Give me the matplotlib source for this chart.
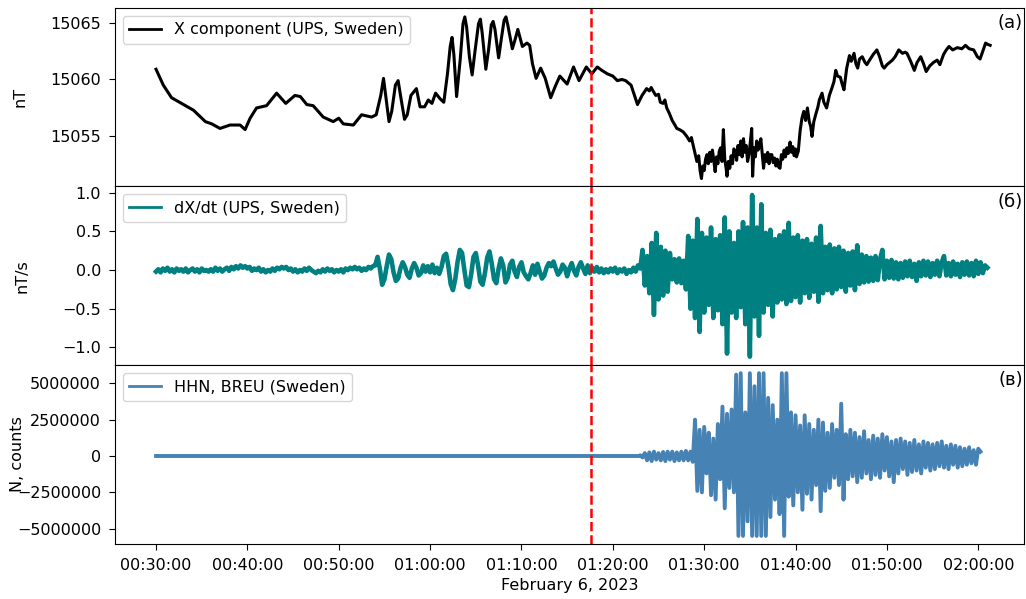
import numpy as np
import pandas as pd
import matplotlib
matplotlib.use('Agg')
import matplotlib.pyplot as plt
import matplotlib.dates as mdates

plt.rcParams['font.size'] = 11.5
plt.rcParams['xtick.major.pad'] = 5.5
plt.rcParams['ytick.major.pad'] = 5.5
plt.rcParams['xtick.major.size'] = 4.5
plt.rcParams['ytick.major.size'] = 4.5

# --- данные ---
t0 = pd.Timestamp('2023-02-06 00:30:00')
quake_time = pd.Timestamp('2023-02-06 01:17:35')

# X компонента (UPS): время в минутах от 00:30, значения в нТл
x_t_min = [
    0, 0.8, 1.7, 2.8, 4.1, 5.4, 6.1, 7.0, 8.1, 9.2, 9.75, 10.3, 11.0, 12.1, 13.2,
    14.2, 15.2, 15.8, 16.5, 17.2, 18.3, 19.4, 20.0, 20.5, 21.6, 22.5, 23.6, 24.1,
    24.6, 24.9, 25.2, 25.5, 25.8, 26.2, 26.5, 26.8, 27.2, 27.5, 27.9, 28.5, 28.9,
    29.4, 29.8, 30.2, 30.6, 31.1, 31.5, 31.9, 32.2, 32.4, 32.6, 32.9, 33.3, 33.6,
    33.8, 34.0, 34.3, 34.6, 34.9, 35.3, 35.5, 35.7, 36.1, 36.4, 36.7, 36.9, 37.1,
    37.5, 37.8, 38.1, 38.3, 38.5, 39.0, 39.3, 39.6, 39.8, 40.1, 40.6, 40.9, 41.2,
    41.6, 42.1, 42.6, 43.2, 43.7, 44.2, 45.0, 45.7, 46.3, 47.1, 47.7, 48.3, 48.8,
    49.4, 50.0, 50.5, 51.0, 51.4, 52.0, 52.7, 53.2, 53.7, 54.0, 54.2, 54.4, 54.7,
    55.0, 55.2, 55.5, 55.7, 55.9, 56.2, 56.5, 56.8, 57.0, 57.3, 57.7, 58.1, 58.4,
    58.6, 58.8, 59.0, 59.2, 59.4, 59.55, 59.7, 59.85, 60.0, 60.15, 60.3, 60.45,
    60.6, 60.75, 60.9, 61.05, 61.2, 61.35, 61.5, 61.65, 61.8, 61.95, 62.1, 62.25,
    62.4, 62.5, 62.65, 62.8, 62.95, 63.1, 63.25, 63.4, 63.55, 63.7, 63.85, 64.0,
    64.15, 64.3, 64.45, 64.6, 64.75, 64.9, 65.05, 65.2, 65.3, 65.45, 65.6, 65.75,
    65.9, 66.05, 66.2, 66.35, 66.5, 66.65, 66.8, 66.95, 67.1, 67.25, 67.4, 67.55,
    67.7, 67.85, 68.0, 68.15, 68.3, 68.45, 68.6, 68.75, 68.9, 69.05, 69.2, 69.4,
    69.55, 69.7, 69.85, 70.0, 70.1, 70.3, 70.5, 70.7, 70.9, 71.1, 71.3, 71.5,
    71.65, 71.8, 72.0, 72.2, 72.45, 72.6, 72.9, 73.1, 73.4, 73.7, 74.0, 74.2,
    74.4, 74.6, 74.9, 75.1, 75.3, 75.6, 75.9, 76.1, 76.4, 76.6, 76.8, 77.0, 77.3,
    77.6, 77.8, 78.1, 78.5, 78.9, 79.2, 79.5, 79.7, 80.0, 80.3, 80.6, 80.9, 81.3,
    81.7, 82.0, 82.2, 82.6, 83.0, 83.3, 83.7, 84.0, 84.3, 84.7, 85.1, 85.5, 85.8,
    86.2, 86.5, 86.8, 87.2, 87.7, 88.2, 88.6, 89.0, 89.5, 89.9, 90.2, 90.5, 90.8,
    91.0, 91.3,
]
x_nT = [
    15060.9, 15059.5, 15058.4, 15057.9, 15057.3, 15056.3, 15056.1, 15055.7, 15056.0,
    15056.0, 15055.6, 15056.6, 15057.5, 15057.7, 15058.8, 15057.9, 15058.6, 15058.5,
    15057.8, 15057.7, 15056.7, 15056.3, 15056.6, 15056.1, 15056.0, 15056.9, 15056.7,
    15056.9, 15058.6, 15060.1, 15058.2, 15056.3, 15057.2, 15059.5, 15059.9, 15058.4,
    15056.5, 15056.9, 15058.6, 15059.2, 15057.6, 15057.6, 15058.2, 15057.9, 15058.8,
    15058.3, 15058.0, 15060.5, 15062.9, 15063.7, 15062.2, 15058.5, 15061.8, 15064.9,
    15065.5, 15064.6, 15062.0, 15060.4, 15062.4, 15064.9, 15065.3, 15064.1, 15060.9,
    15062.6, 15064.8, 15065.1, 15064.4, 15061.9, 15063.6, 15065.2, 15065.5, 15064.8,
    15062.7, 15063.5, 15064.4, 15063.8, 15062.9, 15063.2, 15063.0, 15061.4, 15060.1,
    15061.0, 15060.1, 15058.4, 15059.4, 15060.3, 15059.6, 15061.1, 15059.9, 15061.1,
    15060.5, 15061.1, 15060.8, 15060.5, 15060.3, 15059.9, 15060.0, 15059.9, 15059.5,
    15057.8, 15058.6, 15059.2, 15059.0, 15059.3, 15059.0, 15058.6, 15058.7, 15058.0,
    15057.9, 15058.2, 15057.5, 15057.0, 15056.4, 15056.0, 15055.7, 15055.6, 15055.4,
    15055.0, 15054.6, 15054.9, 15054.2, 15053.5, 15052.8, 15053.3, 15052.0, 15051.3,
    15052.4, 15052.0, 15053.0, 15053.4, 15052.6, 15053.6, 15052.8, 15053.8, 15052.9,
    15051.9, 15053.2, 15052.6, 15053.7, 15054.0, 15052.8, 15055.6, 15053.0, 15052.2,
    15051.5, 15052.8, 15052.2, 15053.3, 15052.6, 15053.9, 15053.7, 15052.9, 15054.2,
    15053.4, 15054.6, 15053.2, 15054.8, 15053.6, 15054.2, 15052.8, 15053.4, 15054.5,
    15055.7, 15051.5, 15054.0, 15053.2, 15054.6, 15053.8, 15054.2, 15054.8, 15053.5,
    15052.2, 15053.4, 15052.8, 15053.6, 15052.6, 15053.4, 15053.4, 15052.7, 15053.1,
    15052.4, 15053.0, 15052.3, 15052.2, 15053.4, 15053.0, 15053.8, 15053.2, 15054.0,
    15053.5, 15054.5, 15053.6, 15054.1, 15053.3, 15053.9, 15053.2, 15053.7, 15055.5,
    15056.6, 15057.2, 15056.4, 15057.5, 15056.3, 15055.9, 15055.0, 15056.3, 15056.9,
    15057.6, 15058.2, 15058.8, 15058.0, 15057.5, 15058.6, 15059.3, 15059.8, 15060.8,
    15060.3, 15060.2, 15059.6, 15059.1, 15061.0, 15062.1, 15061.6, 15062.3, 15061.4,
    15061.0, 15061.8, 15062.0, 15061.5, 15061.3, 15061.7, 15062.2, 15062.6, 15062.0,
    15061.2, 15061.0, 15061.3, 15061.5, 15061.7, 15062.0, 15062.6, 15062.3, 15062.4,
    15062.3, 15061.6, 15060.8, 15061.5, 15062.0, 15061.4, 15060.7, 15061.2, 15061.5,
    15061.7, 15061.3, 15062.2, 15062.6, 15062.9, 15062.6, 15062.8, 15062.7, 15063.0,
    15062.7, 15062.6, 15062.0, 15061.8, 15062.5, 15063.2, 15063.1, 15063.0,
]

# dX/dt (UPS): шаг 15 с начиная с 00:30, нТл/с
dxdt_step_s = 15
dxdt_nTs = [
    -0.02, 0.01, -0.03, 0.02, -0.01, 0.03, -0.02, 0.01,
    -0.03, 0.02, -0.01, 0.01, -0.02, 0.02, -0.03, 0.00,
    0.02, -0.02, 0.01, -0.03, 0.02, -0.01, 0.00, -0.02,
    0.01, -0.02, 0.03, -0.01, 0.02, -0.02, 0.01, 0.03,
    -0.01, 0.04, 0.01, 0.05, 0.02, 0.06, 0.03, 0.05,
    0.02, 0.04, -0.01, 0.02, 0.00, 0.03, -0.02, 0.01,
    -0.03, 0.00, -0.02, 0.02, -0.01, 0.03, 0.01, 0.04,
    0.02, 0.04, 0.00, 0.02, -0.02, 0.01, -0.03, 0.00,
    -0.02, 0.02, -0.01, 0.03, 0.00, -0.02, -0.04, -0.01,
    -0.03, 0.01, -0.02, 0.02, -0.01, 0.01, -0.03, 0.00,
    -0.02, 0.01, -0.03, 0.02, 0.00, 0.03, 0.01, 0.04,
    0.01, 0.03, -0.01, 0.02, 0.00, 0.04, 0.02, 0.05,
    0.06, 0.17, 0.02, -0.19, -0.12, 0.05, 0.20, 0.14,
    -0.03, -0.14, -0.11, 0.02, 0.10, 0.04, -0.06, -0.10,
    0.02, 0.09, 0.03, -0.07, -0.04, 0.06, -0.02, 0.05,
    -0.03, 0.07, -0.04, 0.03, -0.05, 0.04, 0.18, 0.21,
    0.05, -0.18, -0.26, -0.12, 0.10, 0.26, 0.22, 0.00,
    -0.20, -0.22, -0.05, 0.17, 0.22, 0.06, -0.15, -0.19,
    -0.04, 0.16, 0.24, 0.08, -0.12, -0.17, 0.02, 0.15,
    0.06, -0.16, -0.10, 0.07, 0.12, -0.02, -0.09, 0.04,
    0.10, -0.03, -0.08, -0.12, -0.04, 0.06, -0.06, 0.08,
    -0.02, -0.11, -0.07, 0.03, 0.09, 0.05, 0.11, 0.02,
    -0.06, -0.02, 0.07, 0.03, -0.08, 0.02, 0.09, -0.01,
    -0.07, 0.04, 0.10, 0.02, -0.05, 0.06, -0.04, 0.03,
    -0.02, 0.04, -0.03, 0.02, -0.04, 0.01, -0.03, 0.02,
    -0.02, 0.03, -0.04, 0.01, -0.02, 0.02, -0.05, 0.00,
    -0.03, 0.03, -0.02, 0.06, 0.02, 0.26, -0.20, 0.18,
    -0.30, 0.35, -0.58, 0.48, -0.38, 0.30, -0.33, 0.25,
    -0.28, 0.22, -0.12, 0.14, -0.16, 0.15, -0.17, 0.12,
    -0.25, 0.44, -0.50, 0.38, -0.62, 0.66, -0.80, 0.48,
    -0.55, 0.42, -0.45, 0.55, -0.62, 0.40, -0.52, 0.45,
    -0.70, 0.68, -1.08, 0.50, -0.55, 0.35, -0.62, 0.50,
    -0.48, 0.62, -0.70, 0.55, -1.12, 0.97, -0.60, 0.55,
    -0.85, 0.85, -0.55, 0.48, -0.45, 0.52, -0.60, 0.40,
    -0.42, 0.45, -0.38, 0.50, -0.44, 0.61, -0.40, 0.42,
    -0.35, 0.45, -0.42, 0.38, -0.30, 0.40, -0.36, 0.34,
    -0.28, 0.42, -0.41, 0.57, -0.30, 0.30, -0.26, 0.33,
    -0.30, 0.28, -0.25, 0.30, -0.22, 0.25, -0.28, 0.22,
    -0.20, 0.24, -0.26, 0.32, -0.18, 0.20, -0.16, 0.18,
    -0.15, 0.16, -0.14, 0.18, -0.13, 0.14, 0.26, -0.12,
    0.12, -0.10, 0.13, -0.11, 0.10, -0.12, 0.09, -0.10,
    0.11, -0.08, 0.12, -0.09, 0.08, -0.14, 0.10, -0.08,
    0.12, -0.07, 0.11, -0.09, 0.09, -0.06, 0.12, -0.08,
    0.10, 0.18, -0.07, 0.09, -0.08, 0.11, -0.06, 0.08,
    -0.09, 0.10, -0.06, 0.11, -0.07, 0.09, -0.08, 0.12,
    -0.05, 0.10, -0.04, 0.06, 0.03,
]

# HHN, BREU: до 01:23 ровный ноль, далее шаг 15 с; значения в млн отсчётов
hhn_quiet_times = ['2023-02-06 00:30:00', '2023-02-06 01:23:00']
hhn_quiet_mcounts = [0.0, 0.0]
hhn_active_start = pd.Timestamp('2023-02-06 01:23:00')
hhn_step_s = 15
hhn_active_mcounts = [
    0.05, -0.1, 0.2, -0.3, 0.25, -0.35, 0.3, -0.25,
    0.2, -0.3, 0.28, -0.35, 0.3, -0.25, 0.3, -0.35,
    0.25, -0.3, 0.3, -0.3, 0.35, -0.3, 0.3, -0.4,
    2.5, -2.4, 1.8, -2.5, 2.0, -1.2, 1.6, -2.7,
    1.2, -3.0, 2.2, -1.6, 3.4, -3.6, 2.9, -2.2,
    3.2, -2.5, 5.6, -5.5, 5.7, -5.5, 3.0, -4.5,
    5.7, -5.5, 4.8, -5.5, 5.7, -5.5, 5.7, -5.5,
    4.0, -4.2, 3.5, -3.0, 2.5, -4.0, 5.7, -5.5,
    5.7, -2.8, 3.0, -3.4, 2.8, -2.5, 2.1, -3.7,
    2.8, -2.6, 2.2, -3.0, 1.8, -2.0, 2.5, -3.8,
    2.3, -2.4, 1.6, -2.2, 2.2, -1.5, 1.8, -2.0,
    3.6, -3.0, 1.5, -1.6, 1.8, -1.4, 1.6, -1.8,
    1.3, -1.5, 1.7, -1.2, 1.1, -1.6, 1.4, -1.3,
    1.2, -1.5, 1.5, -1.0, 1.3, -1.4, 1.0, -1.8,
    1.1, -1.2, 1.2, -0.9, 1.0, -1.3, 0.9, -1.1,
    1.1, -1.0, 0.8, -1.2, 1.0, -0.8, 0.9, -1.0,
    0.8, -0.9, 0.9, -0.7, 1.0, -0.8, 0.7, -0.9,
    0.8, -0.6, 0.7, -0.8, 0.6, -0.7, 0.5, -0.6,
    0.6, -0.5, 0.4, -0.6, 0.5, 0.3,
]

# --- подготовка осей времени ---
x_time = t0 + pd.to_timedelta(x_t_min, unit='min')
dxdt_time = pd.date_range(t0, periods=len(dxdt_nTs), freq=f'{dxdt_step_s}s')
hhn_time = pd.DatetimeIndex(pd.to_datetime(hhn_quiet_times)).append(
    pd.date_range(hhn_active_start, periods=len(hhn_active_mcounts), freq=f'{hhn_step_s}s'))
hhn_counts = np.array(hhn_quiet_mcounts + hhn_active_mcounts) * 1e6

# --- рисунок ---
fig, axes = plt.subplots(3, 1, sharex=True, figsize=(10.26, 5.99), dpi=100)
fig.subplots_adjust(left=0.112, right=0.998, top=0.987, bottom=0.092, hspace=0)

ax1, ax2, ax3 = axes
ax1.plot(x_time, x_nT, color='black', lw=2.2, label='X component (UPS, Sweden)')
ax2.plot(dxdt_time, dxdt_nTs, color='teal', lw=3.3, label='dX/dt (UPS, Sweden)')
ax3.plot(hhn_time, hhn_counts, color='steelblue', lw=2.8, label='HHN, BREU (Sweden)')

ax1.set_ylabel('nT')
ax2.set_ylabel('nT/s')
ax3.set_ylabel('N, counts')
ax1.yaxis.set_label_coords(-0.096, 0.5)
ax2.yaxis.set_label_coords(-0.094, 0.5)
ax3.yaxis.set_label_coords(-0.099, 0.5)

ax1.ticklabel_format(axis='y', useOffset=False, style='plain')
ax3.ticklabel_format(axis='y', useOffset=False, style='plain')
ax1.set_yticks([15055, 15060, 15065])
ax2.set_yticks([-1.0, -0.5, 0.0, 0.5, 1.0])
ax3.set_yticks([-5000000, -2500000, 0, 2500000, 5000000])
ax1.set_ylim(15050.6, 15066.3)
ax2.set_ylim(-1.23, 1.08)
ax3.set_ylim(-6.05e6, 6.25e6)

for ax, lab in zip(axes, ['(а)', '(б)', '(в)']):
    ax.axvline(quake_time, color='red', ls='--', lw=1.8)
    leg = ax.legend(loc='upper left', fontsize=11.5)
    for h in leg.get_lines():
        h.set_linewidth(2.0)
    ax.text(0.999, 0.965, lab, transform=ax.transAxes, ha='right', va='top', fontsize=13)

for ax in axes[:2]:
    ax.tick_params(axis='x', bottom=False)

ax3.set_xlim(pd.Timestamp('2023-02-06 00:25:30'), pd.Timestamp('2023-02-06 02:05:00'))
ax3.xaxis.set_major_locator(mdates.MinuteLocator(byminute=[0, 10, 20, 30, 40, 50]))
ax3.xaxis.set_major_formatter(mdates.DateFormatter('%H:%M:%S'))
ax3.set_xlabel('February 6, 2023')

plt.savefig('out.png', dpi=100)
